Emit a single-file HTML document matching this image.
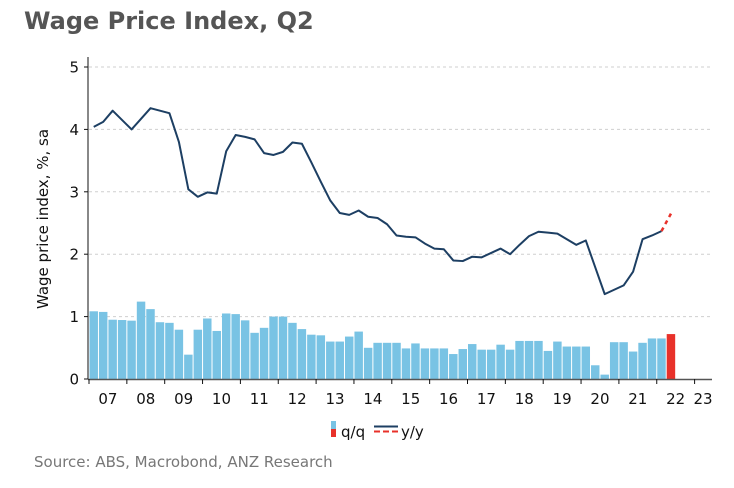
<!DOCTYPE html>
<html><head><meta charset="utf-8"><style>
body{margin:0;background:#fff;width:734px;height:488px;overflow:hidden}
svg{display:block}
text{font-family:"DejaVu Sans","Liberation Sans",sans-serif}
</style></head><body>
<svg id="c" width="734" height="488">
<text x="24" y="29" font-size="24" font-weight="bold" fill="#555">Wage Price Index, Q2</text>
<text transform="translate(48,219) rotate(-90)" text-anchor="middle" font-size="15" fill="#111">Wage price index, %, sa</text>
<text x="34" y="467" font-size="15" fill="#777">Source: ABS, Macrobond, ANZ Research</text>
<g>
<rect x="331" y="421" width="5" height="8" fill="#79c3e4"/>
<rect x="331" y="429" width="5" height="8" fill="#e8312a"/>
<text x="341" y="437" font-size="15" fill="#111">q/q</text>
<line x1="374" y1="426.5" x2="398" y2="426.5" stroke="#1d3f63" stroke-width="2"/>
<line x1="374" y1="431.5" x2="398" y2="431.5" stroke="#e8312a" stroke-width="2" stroke-dasharray="6,3"/>
<text x="401" y="437" font-size="15" fill="#111">y/y</text>
</g>
<g id="plot"></g>
</svg>
<script>
const yTicks=[0,1,2,3,4,5];
const years=["07","08","09","10","11","12","13","14","15","16","17","18","19","20","21","22","23"];
const qq=[1.085,1.075,0.95,0.945,0.935,1.24,1.12,0.91,0.90,0.79,0.39,0.79,0.97,0.77,1.05,1.04,0.94,0.74,0.82,1.0,1.0,0.90,0.80,0.71,0.70,0.60,0.60,0.68,0.76,0.50,0.58,0.58,0.58,0.49,0.57,0.49,0.49,0.49,0.40,0.48,0.56,0.47,0.47,0.55,0.47,0.61,0.61,0.61,0.45,0.60,0.52,0.52,0.52,0.22,0.07,0.59,0.59,0.44,0.58,0.65,0.65,0.72];
const qqForecastFrom=61;
const yy=[4.04,4.12,4.30,4.15,4.00,4.17,4.34,4.30,4.26,3.80,3.04,2.92,2.99,2.97,3.65,3.91,3.88,3.84,3.62,3.59,3.64,3.79,3.77,3.47,3.16,2.86,2.66,2.63,2.70,2.60,2.58,2.48,2.30,2.28,2.27,2.17,2.09,2.08,1.90,1.89,1.96,1.95,2.02,2.09,2.00,2.15,2.29,2.36,2.345,2.33,2.24,2.15,2.22,1.79,1.36,1.43,1.50,1.72,2.24,2.30,2.37];
const yyForecast=[2.37,2.65];
const NS='http://www.w3.org/2000/svg';
const g=document.getElementById('plot');
const X0=89,YW=37.85,QW=YW/4,Y0=379,YU=62.4,XEND=712;
const xq=i=>X0+(i+0.5)*QW;
const yv=v=>Y0-v*YU;
function mk(t,a,p){const e=document.createElementNS(NS,t);for(const k in a)e.setAttribute(k,a[k]);(p||g).appendChild(e);return e;}
yTicks.forEach(t=>{
 if(t>0){const l=mk('line',{x1:89,x2:XEND,y1:yv(t),y2:yv(t),stroke:'#cfcfcf','stroke-dasharray':'3,3'});
 
 }
 const tk=mk('line',{x1:84,x2:88,y1:yv(t),y2:yv(t),stroke:'#111'});
 
 
 const tx=mk('text',{x:79,y:yv(t)+5.5,'text-anchor':'end','font-size':15,fill:'#111'});
 tx.textContent=t;
 
 
});
qq.forEach((v,i)=>{
 const r=mk('rect',{x:X0+i*QW+0.5,y:yv(v),width:QW-1,height:v*YU,fill:i>=qqForecastFrom?'#e8312a':'#79c3e4'});
 
 
});
const ax=mk('line',{x1:88,x2:88,y1:57,y2:379.5,stroke:'#111'});


const xa=mk('line',{x1:88,x2:XEND,y1:379.5,y2:379.5,stroke:'#555','stroke-width':1.5});


years.forEach((y,i)=>{
 const xt=X0+i*YW;
 const tk=mk('line',{x1:xt,x2:xt,y1:379,y2:384,stroke:'#111'});
 
 
 const cx=Math.min(xt+YW/2,703);
 const tx=mk('text',{x:cx,y:404,'text-anchor':'middle','font-size':15,fill:'#111'});
 tx.textContent=y;
 
 
});
const ln=mk('polyline',{points:yy.map((v,i)=>xq(i)+','+yv(v)).join(' '),fill:'none',stroke:'#1d3f63','stroke-width':2,'stroke-linejoin':'round'});


const s=yy.length-1;
const fl=mk('polyline',{points:yyForecast.map((v,i)=>xq(s+i)+','+yv(v)).join(' '),fill:'none',stroke:'#e8312a','stroke-width':2.5,'stroke-dasharray':'4,4'});


</script>
</body></html>
